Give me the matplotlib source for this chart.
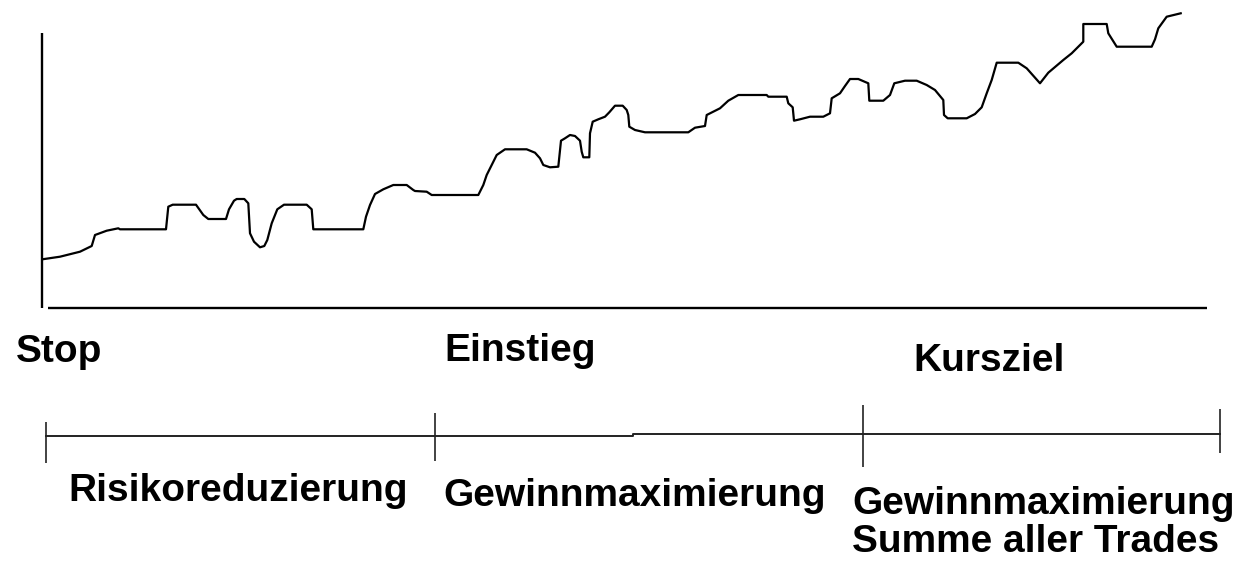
import matplotlib.pyplot as plt

plt.rcParams.update({
    "font.family": ["Liberation Sans", "DejaVu Sans"],
    "font.weight": "bold",
})

# price curve, traced in picture units (x to the right, y downwards)
kurs_x = [42.3, 60, 80, 91.7, 95, 106.7, 118.3, 120, 166, 168.3, 172.7, 196, 203.3,
          208.3, 226, 229, 234, 236.7, 244.3, 248.3, 250, 254, 260, 264.3, 267.3,
          271.7, 277.3, 284, 306.7, 311.7, 313.3, 363.3, 366, 370, 375, 383.3, 393.3,
          406.7, 413.3, 415, 426.7, 431.7, 478.3, 483.3, 486.7, 491.7, 496.7, 505,
          526.7, 535, 540, 543.3, 550, 558.3, 561, 565, 570, 575, 580, 581.7, 583.3,
          589.3, 590, 592.7, 598.3, 605, 609.3, 615, 622.7, 626.7, 628.3, 629.3, 635,
          645, 688.3, 695, 705, 706.7, 713.3, 720, 728.3, 738.3, 766.7, 768.3, 786.7,
          788.3, 792.7, 794, 800, 810, 823.3, 830, 831.7, 840, 845, 850, 858.3, 868.3,
          869.3, 883.3, 890, 894.3, 905, 916.7, 926.7, 935, 943.3, 944, 947.7, 966.7,
          975, 981.7, 986.7, 991.7, 996.7, 1018.3, 1026.7, 1040, 1048.3, 1063.3,
          1071.7, 1080, 1083.3, 1083.3, 1106.7, 1108.3, 1116.7, 1151.7, 1155, 1158.3,
          1166.7, 1180.7]
kurs_y = [259.3, 256.7, 251.7, 246, 235, 230.7, 228.3, 229.3, 229.3, 206.7, 204.7, 204.7,
          215, 219, 219, 209.3, 200.7, 199, 199, 203.3, 233.3, 241.7, 247.3, 246, 240,
          223.3, 209.3, 204.7, 204.7, 209.3, 229.3, 229.3, 216.7, 205, 194, 189.3, 185,
          185, 190, 191, 191.7, 195, 195, 185, 175, 165, 155, 149.3, 149.3, 152.7,
          158.3, 165, 167.3, 166.7, 140.7, 138.3, 135, 136, 140.7, 151.7, 157.3, 157.3,
          133.3, 121.7, 119.3, 116.7, 112.3, 105.7, 105.7, 110, 115, 126.7, 130, 132.3,
          132.3, 127.7, 126, 115, 111.7, 108.3, 100.7, 95, 95, 96.7, 96.7, 103.3, 107.3,
          120.7, 119.3, 116.7, 116.7, 113.3, 98.3, 93.3, 86, 79, 79, 83.3, 100.7, 100.7,
          95, 83.3, 80.7, 80.7, 85, 90, 100, 115, 118.3, 118.3, 114, 107.3, 93.3, 80,
          62.7, 62.7, 68.3, 83.3, 72.7, 60, 53.3, 45, 41.7, 24, 24, 33.3, 46.7, 46.7,
          39.3, 28.3, 16.7, 13.3]

# timeline under the chart
zeit_ticks = [45.7, 434.7, 863.3, 1220]
zeit_tick_top = [421.7, 413, 405, 409.3]
zeit_tick_bottom = [462.7, 460.7, 466.7, 452.7]
zeit_line_x = [45.7, 633, 633, 1220]
zeit_line_y = [436.3, 436.3, 434.3, 434.3]

labels_top = ["Stop", "Einstieg", "Kursziel"]
labels_top_x = [16, 444, 913]
labels_top_y = [362, 361, 371]

labels_bottom = ["Risikoreduzierung", "Gewinnmaximierung", "Gewinnmaximierung",
                 "Summe aller Trades"]
labels_bottom_x = [68, 443, 852, 852]
labels_bottom_y = [501, 506, 514, 552]

fig = plt.figure(figsize=(12.36, 5.62), dpi=100)
ax = fig.add_axes([0, 0, 1, 1])
ax.set_xlim(0, 1236)
ax.set_ylim(562, 0)
ax.axis("off")

# axes of the sketch
ax.plot([41.7, 41.7], [33, 308], color="black", lw=1.7, solid_capstyle="butt")
ax.plot([47.7, 1207], [307.5, 307.5], color="black", lw=1.7, solid_capstyle="butt")

# price line
ax.plot(kurs_x, kurs_y, color="black", lw=1.6, solid_joinstyle="round")

# timeline
ax.plot(zeit_line_x, zeit_line_y, color="#222222", lw=1.4)
ax.vlines(zeit_ticks, zeit_tick_top, zeit_tick_bottom, color="#222222", lw=1.2)

for txt, x, y in zip(labels_top, labels_top_x, labels_top_y):
    ax.text(x, y, txt, fontsize=28, fontweight="bold", ha="left", va="baseline")
for txt, x, y in zip(labels_bottom, labels_bottom_x, labels_bottom_y):
    ax.text(x, y, txt, fontsize=28, fontweight="bold", ha="left", va="baseline")

fig.savefig("out.png", dpi=100, facecolor="white")
plt.close(fig)
